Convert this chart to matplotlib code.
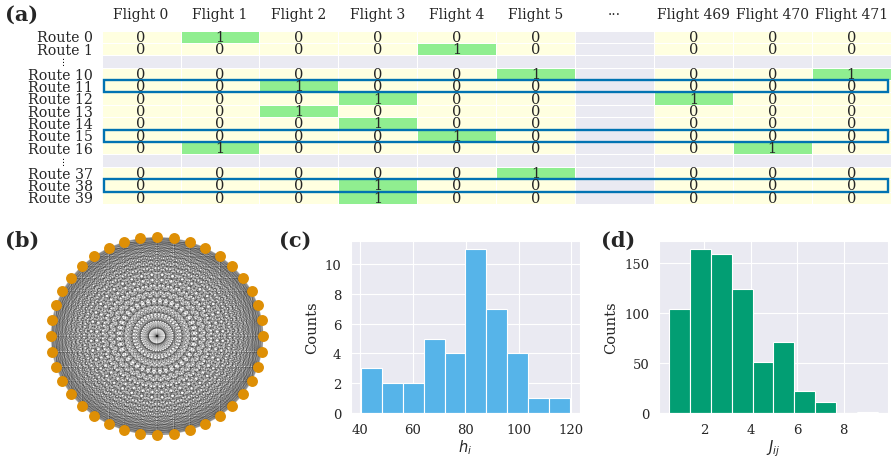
import itertools
import numpy as np
import matplotlib
matplotlib.use("Agg")
import matplotlib.pyplot as plt
import seaborn as sns
from matplotlib.colors import ListedColormap
from matplotlib.patches import Rectangle
from matplotlib.collections import LineCollection

# ---- data ----
flights = ["Flight 0", "Flight 1", "Flight 2", "Flight 3", "Flight 4", "Flight 5",
           "\u00b7\u00b7\u00b7", "Flight 469", "Flight 470", "Flight 471"]
routes = ["Route 0", "Route 1", "", "Route 10", "Route 11", "Route 12", "Route 13",
          "Route 14", "Route 15", "Route 16", "", "Route 37", "Route 38", "Route 39"]
# -1 marks the skipped rows / column
assign = [
    [0, 1, 0, 0, 0, 0, -1, 0, 0, 0],
    [0, 0, 0, 0, 1, 0, -1, 0, 0, 0],
    [-1] * 10,
    [0, 0, 0, 0, 0, 1, -1, 0, 0, 1],
    [0, 0, 1, 0, 0, 0, -1, 0, 0, 0],
    [0, 0, 0, 1, 0, 0, -1, 1, 0, 0],
    [0, 0, 1, 0, 0, 0, -1, 0, 0, 0],
    [0, 0, 0, 1, 0, 0, -1, 0, 0, 0],
    [0, 0, 0, 0, 1, 0, -1, 0, 0, 0],
    [0, 1, 0, 0, 0, 0, -1, 0, 1, 0],
    [-1] * 10,
    [0, 0, 0, 0, 0, 1, -1, 0, 0, 0],
    [0, 0, 0, 1, 0, 0, -1, 0, 0, 0],
    [0, 0, 0, 1, 0, 0, -1, 0, 0, 0],
]
highlighted = ["Route 11", "Route 15", "Route 38"]

n_routes = 40

h_counts = [3, 2, 2, 5, 4, 11, 7, 4, 1, 1]
h_range = (40.6, 119.3)
J_counts = [104, 164, 159, 124, 51, 71, 22, 11, 0, 1]
J_range = (0.5, 9.46)

# ---- style ----
sns.set_style("darkgrid")
plt.rcParams["font.family"] = ["DejaVu Serif"]
pal = sns.color_palette("colorblind")

fig = plt.figure(figsize=(8.91, 4.60), dpi=100)

# ---- (a) table ----
ax = fig.add_axes([0.1141, 0.5543, 0.8855, 0.3772])
A = np.array(assign)
cmap = ListedColormap(["#EAEAF2", "#FFFFE0", "#90EE90"])
ax.pcolormesh(A + 1, cmap=cmap, vmin=0, vmax=2, edgecolors="white", linewidth=0.4)
ax.set_xlim(0, A.shape[1])
ax.set_ylim(A.shape[0], 0)
ax.axis("off")
for i, row in enumerate(assign):
    for j, v in enumerate(row):
        if v >= 0:
            ax.text(j + 0.5, i + 0.5, str(v), ha="center", va="center",
                    fontsize=10.5, color=".15")
for j, f in enumerate(flights):
    ax.text(j + 0.5, -1.3, f, ha="center", va="center", fontsize=10, color=".15")
for i, r in enumerate(routes):
    if r:
        ax.text(-0.11, i + 0.55, r, ha="right", va="center", fontsize=10.2, color=".15")
    else:
        ax.text(-0.515, i + 0.5, r"$\vdots$", ha="center", va="center", fontsize=6.5,
                color="k", fontweight="bold")
for r in highlighted:
    i = routes.index(r)
    ax.add_patch(Rectangle((0.03, i), A.shape[1] - 0.065, 1, fill=False,
                           edgecolor=pal[0], linewidth=1.7, clip_on=False))

# ---- (b) network ----
axb = fig.add_axes([40 / 891, 1 - 446 / 460, 234 / 891, 218 / 460])
theta = 2 * np.pi * np.arange(n_routes) / n_routes
pos = np.column_stack([np.cos(theta), np.sin(theta)])
segs = [[pos[i], pos[j]] for i, j in itertools.combinations(range(n_routes), 2)]
axb.add_collection(LineCollection(segs, colors="black", linewidths=0.45, alpha=0.28))
axb.scatter(pos[:, 0], pos[:, 1], s=62, color=pal[1], zorder=3, linewidths=0)
axb.set_xlim(-1.1, 1.1)
axb.set_ylim(-1.1, 1.1)
axb.axis("off")

# ---- (c) h_i histogram ----
axc = fig.add_axes([351 / 891, 1 - 414 / 460, 229 / 891, 172 / 460])
h_edges = np.linspace(h_range[0], h_range[1], len(h_counts) + 1)
axc.bar(h_edges[:-1], h_counts, width=np.diff(h_edges), align="edge",
        color=pal[9], edgecolor="white", linewidth=0.8)
axc.set_xticks([40, 60, 80, 100, 120])
axc.set_xlabel("$h_i$", fontsize=10.5, labelpad=1)
axc.set_ylabel("Counts", fontsize=10.5)
axc.tick_params(labelsize=9.5)

# ---- (d) J_ij histogram ----
axd = fig.add_axes([659 / 891, 1 - 414 / 460, 229 / 891, 172 / 460])
J_edges = np.linspace(J_range[0], J_range[1], len(J_counts) + 1)
axd.bar(J_edges[:-1], J_counts, width=np.diff(J_edges), align="edge",
        color=pal[2], edgecolor="white", linewidth=0.8)
axd.set_xticks([2, 4, 6, 8])
axd.set_yticks([0, 50, 100, 150])
axd.set_xlabel("$J_{ij}$", fontsize=10.5, labelpad=1)
axd.set_ylabel("Counts", fontsize=10.5)
axd.tick_params(labelsize=9.5)

# ---- panel labels ----
for x, y, lab in [(5, 15, "(a)"), (5, 241, "(b)"), (279, 241, "(c)"), (601, 241, "(d)")]:
    fig.text(x / 891, 1 - y / 460, lab, fontsize=15, fontweight="bold",
             ha="left", va="center", family="DejaVu Serif")

fig.savefig("out.png", dpi=100)
